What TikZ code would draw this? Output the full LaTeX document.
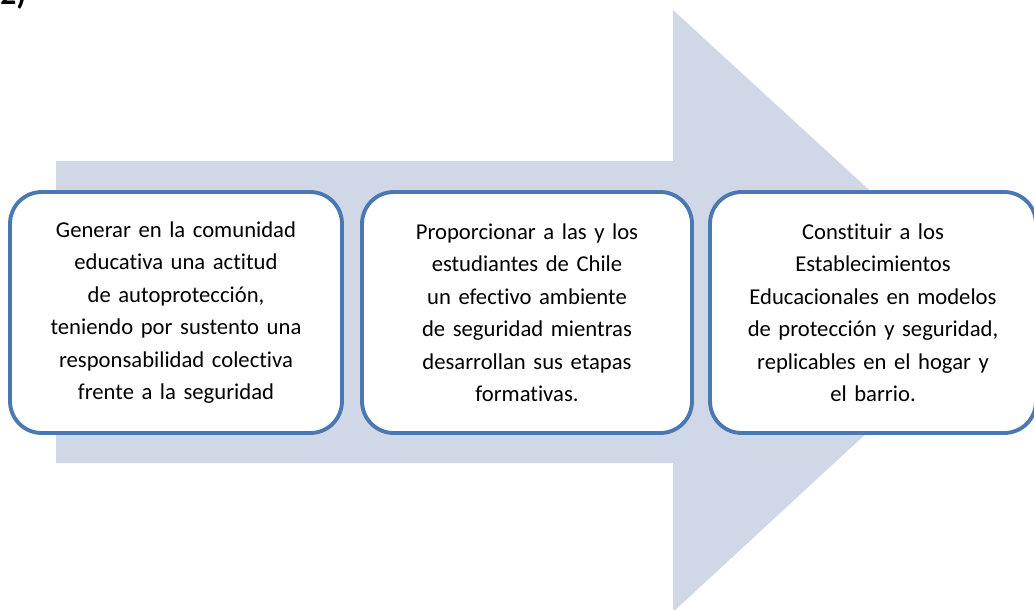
\documentclass[tikz,border=0pt]{standalone}
\usepackage{fontspec}
\setmainfont{Carlito}[Ligatures={NoCommon}]
\definecolor{arrowfill}{RGB}{208,216,232}
\definecolor{boxline}{RGB}{74,120,178}

\begin{document}
\begin{tikzpicture}[x=0.02cm,y=-0.02cm,
  meta/.style={draw=boxline,line width=2.2pt,fill=white,rounded corners=18pt,
    minimum height=4.82cm,text width=5.6cm,align=center,
    font=\fontsize{12.9}{18.5}\selectfont}]
  \useasboundingbox (0,0) rectangle (1034,609);
  % big arrow behind the boxes
  \fill[arrowfill] (56,161) -- (673,161) -- (673,10) -- (1000,310) -- (673,612)
    -- (673,463) -- (56,463) -- cycle;
  \node (num) at (0,4) [anchor=base west,inner sep=0pt,font=\bfseries\fontsize{18}{18}\selectfont] {2)};
  \node (1) at (176,312.5) [meta,minimum width=6.64cm] {Generar en la comunidad\\
    educativa una actitud\\ de autoprotección,\\ teniendo por sustento una\\
    responsabilidad colectiva\\ frente a la seguridad};
  \node (2) at (527,312.5) [meta,minimum width=6.6cm] {Proporcionar a las y los\\
    estudiantes de Chile\\ un efectivo ambiente\\ de seguridad mientras\\
    desarrollan sus etapas\\ formativas.};
  \node (3) at (873,312.5) [meta,minimum width=6.52cm] {Constituir a los\\
    Establecimientos\\ Educacionales en modelos\\ de protección y seguridad,\\
    replicables en el hogar y\\ el barrio.};
\end{tikzpicture}
\end{document}
